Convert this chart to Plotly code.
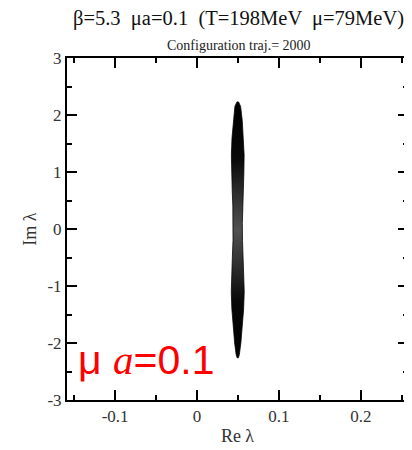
import plotly.graph_objects as go

# Outline of the eigenvalue cloud (Im λ levels, half-width in Re λ)
im_levels = [2.23, 2.15, 1.9, 1.6, 1.3, 1.0, 0.7, 0.4, 0.1, -0.2, -0.5, -0.8, -1.1, -1.4, -1.7, -2.0, -2.2, -2.26]
half_width = [0.0010, 0.0035, 0.0055, 0.0070, 0.0078, 0.0075, 0.0068, 0.0060, 0.0056, 0.0058, 0.0066, 0.0076, 0.0079, 0.0072, 0.0058, 0.0038, 0.0020, 0.0008]
re_center = 0.0497

x_ticks = [-0.1, 0, 0.1, 0.2]
x_ticktext = ["-0.1", "0", "0.1", "0.2"]
y_ticks = [-3, -2, -1, 0, 1, 2, 3]
y_ticktext = ["-3", "-2", "-1", "0", "1", "2", "3"]

xs = [re_center + w for w in half_width] + [re_center - w for w in reversed(half_width)]
ys = im_levels + list(reversed(im_levels))
xs.append(xs[0]); ys.append(ys[0])

fig = go.Figure()
fig.add_trace(go.Scatter(
    x=xs, y=ys, mode="lines", line=dict(color="rgba(0,0,0,0.75)", width=1),
    fill="toself",
    fillgradient=dict(type="vertical",
                      colorscale=[[0, "#000"], [0.22, "#080808"], [0.36, "#2e2e2e"], [0.5, "#505050"],
                                  [0.64, "#2e2e2e"], [0.78, "#080808"], [1, "#000"]]),
    hoverinfo="skip", showlegend=False))

serif = "Liberation Serif, Times New Roman, serif"
axis_common = dict(showline=True, linecolor="black", linewidth=2, mirror="allticks",
                   ticks="inside", ticklen=10, tickwidth=1.5, tickcolor="black",
                   showgrid=False, zeroline=False,
                   tickfont=dict(family=serif, size=17, color="#333"))
fig.update_xaxes(range=[-0.1588, 0.2576], tickvals=x_ticks, ticktext=x_ticktext,
                 minor=dict(ticks="inside", ticklen=5, dtick=0.05, tick0=0, tickcolor="black", tickwidth=1.5),
                 title=dict(text="Re λ", font=dict(family=serif, size=18, color="#333"), standoff=4),
                 **axis_common)
fig.update_yaxes(range=[-3.0, 3.0], tickvals=y_ticks, ticktext=y_ticktext,
                 minor=dict(ticks="inside", ticklen=5, dtick=0.5, tick0=0, tickcolor="black", tickwidth=1.5),
                 title=dict(text="Im λ", font=dict(family=serif, size=18, color="#333"), standoff=6),
                 **axis_common)

fig.add_annotation(text="β=5.3  μa=0.1  (T=198MeV  μ=79MeV)", xref="paper", yref="paper",
                   x=0.504, y=1.0, yshift=40, yanchor="middle", showarrow=False,
                   font=dict(family=serif, size=20.5, color="#111"))
fig.add_annotation(text="Configuration traj.= 2000", xref="paper", yref="paper",
                   x=0.504, y=1.0, yshift=13, yanchor="middle", showarrow=False,
                   font=dict(family=serif, size=14, color="#222"))
fig.add_annotation(text="μ <i><span style='font-family:Liberation Serif'>a</span></i>=0.1",
                   xref="paper", yref="paper", x=0.025, y=0.117, xanchor="left", yanchor="middle",
                   showarrow=False,
                   font=dict(family="Liberation Sans, Arial, sans-serif", size=41, color="red"))

# page body has an 8px margin, so the figure is sized/offset accordingly
fig.update_layout(width=404, height=442, margin=dict(l=59, r=2, t=50, b=50),
                  plot_bgcolor="white", paper_bgcolor="white")
fig.write_html("out.html")
